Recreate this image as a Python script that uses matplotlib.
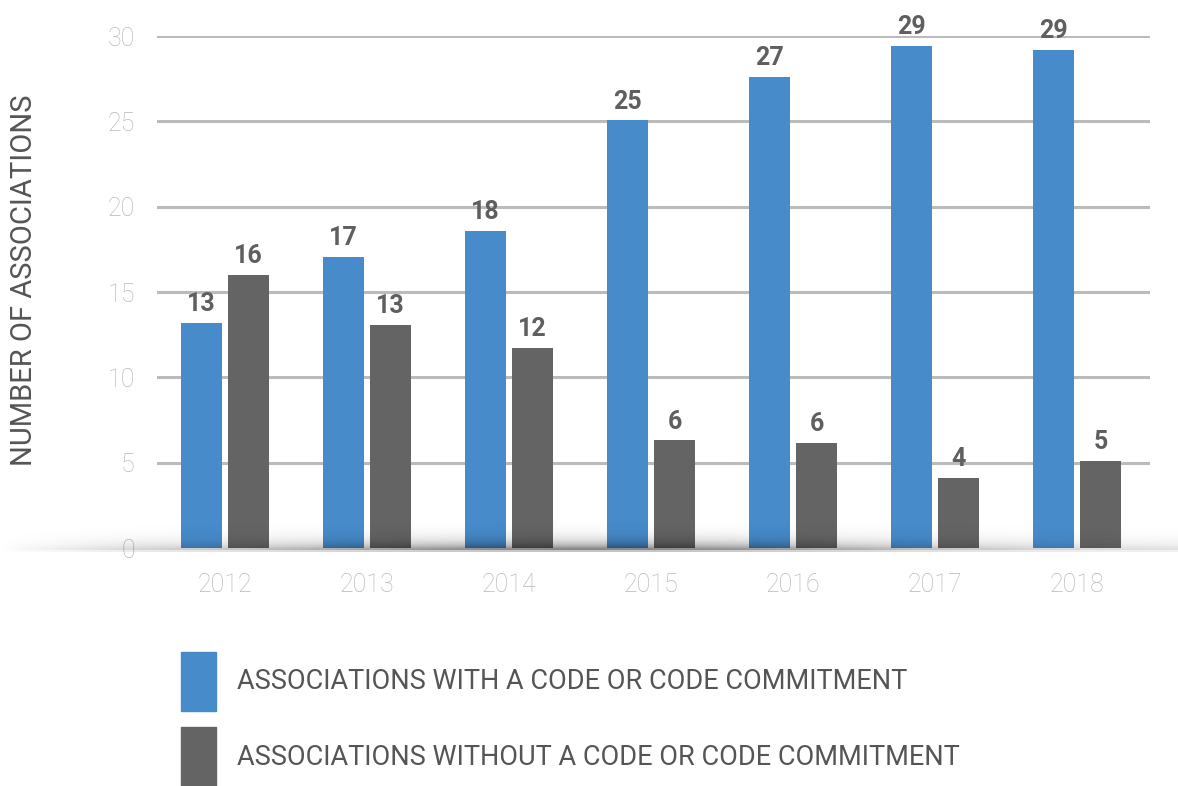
import numpy as np
import matplotlib
matplotlib.use("Agg")
import matplotlib.pyplot as plt
from matplotlib.patches import Patch

years = ["2012", "2013", "2014", "2015", "2016", "2017", "2018"]
with_code = [13.2, 17.05, 18.6, 25.05, 27.6, 29.4, 29.2]
without_code = [16.0, 13.05, 11.7, 6.3, 6.15, 4.1, 5.1]
with_labels = [13, 17, 18, 25, 27, 29, 29]
without_labels = [16, 13, 12, 6, 6, 4, 5]
series_names = ["ASSOCIATIONS WITH A CODE OR CODE COMMITMENT",
                "ASSOCIATIONS WITHOUT A CODE OR CODE COMMITMENT"]

blue = "#478bcb"
grey = "#646464"
label_col = "#5f5f5f"
tick_col = "#b8b8bb"

plt.rcParams['font.family'] = ['Roboto', 'DejaVu Sans']

fig = plt.figure(figsize=(11.78, 7.86), dpi=100)
ax = fig.add_axes([157 / 1178, 1 - 548 / 786, (1150 - 157) / 1178, (548 - 36) / 786])

x = np.arange(len(years))
w = 0.289
off = 0.1655
b1 = ax.bar(x - off, with_code, w, color=blue, zorder=3)
b2 = ax.bar(x + off, without_code, w, color=grey, zorder=3)

for bars, labs in ((b1, with_labels), (b2, without_labels)):
    for rect, lab in zip(bars, labs):
        ax.annotate(str(lab), (rect.get_x() + rect.get_width() / 2, rect.get_height()),
                    xytext=(0, 5), textcoords="offset points", ha="center", va="bottom",
                    fontsize=18, fontweight="bold", color=label_col, zorder=5,
                    annotation_clip=False)

ax.set_xlim(-0.48, 6.515)
ax.set_ylim(0, 30)
ax.set_yticks([0, 5, 10, 15, 20, 25, 30])
ax.set_xticks(x)
ax.set_xticklabels(years)
for y in [5, 10, 15, 20, 25, 30]:
    ax.axhline(y, color="#bbbbbe", lw=2.2, zorder=1)
for s in ax.spines.values():
    s.set_visible(False)
ax.tick_params(length=0, labelsize=18, labelcolor=tick_col)
ax.tick_params(axis="y", pad=16)
ax.tick_params(axis="x", pad=18)
for t in ax.get_xticklabels() + ax.get_yticklabels():
    t.set_fontweight("light")

fig.text(24 / 1178, 1 - 280 / 786, "NUMBER OF ASSOCIATIONS", rotation=90,
         ha="center", va="center", fontsize=21, color="#555555")

# soft shadow along the baseline
sh = fig.add_axes([0, 1 - 552 / 786, 1, 38 / 786], zorder=10)
sh.axis("off")
xx = np.linspace(0, 1, 600)
yy = np.linspace(0, 1, 76)
hprof = 0.2 + 0.8 * np.exp(-((xx - 0.5) / 0.3) ** 2)
hprof *= np.clip(xx / 0.12, 0, 1) ** 0.7
vprof = np.exp(-yy / 0.28) * (1 - yy) ** 1.5
vprof[:4] *= 0.35
alpha = np.outer(vprof, hprof) * 0.7
img = np.zeros((76, 600, 4))
img[..., 3] = alpha
sh.imshow(img, origin="lower", aspect="auto", extent=(0, 1, 0, 1))
sh.set_xlim(0, 1)
sh.set_ylim(0, 1)

handles = [Patch(color=blue), Patch(color=grey)]
fig.legend(handles, series_names, loc="upper left",
           bbox_to_anchor=(181 / 1178, 1 - 652 / 786), frameon=False,
           fontsize=19.5, handlelength=1.29, handleheight=2.98,
           handletextpad=0.78, labelspacing=0.59, borderpad=0,
           borderaxespad=0, labelcolor="#555555")

fig.savefig("out.png", dpi=100)
